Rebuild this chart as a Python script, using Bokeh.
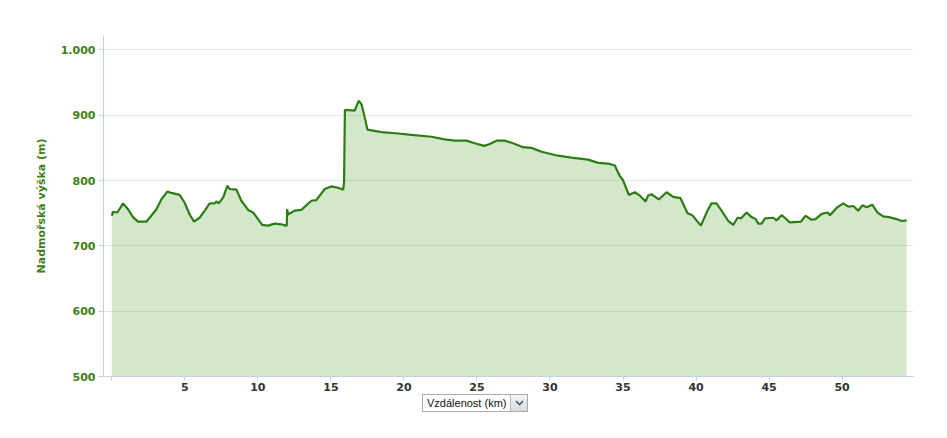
from bokeh.plotting import figure
from bokeh.models import Range1d, FixedTicker, Div, Spacer
from bokeh.layouts import column, row
from bokeh.embed import file_html
from bokeh.resources import INLINE

# ---- data ----
distance_km = [0.0, 0.08, 0.38, 0.77, 1.11, 1.45, 1.79, 2.36, 2.7, 3.05, 3.39, 3.8, 4.08, 4.64,
               4.99, 5.33, 5.63, 6.01, 6.36, 6.7, 7.04, 7.16, 7.32, 7.62, 7.91, 8.07, 8.53, 8.87,
               9.33, 9.67, 10.01, 10.29, 10.7, 11.15, 11.61, 11.9, 11.98, 12.0, 12.07, 12.52,
               12.98, 13.66, 14.0, 14.58, 15.03, 15.49, 15.84, 15.9, 15.96, 16.63, 16.9, 17.09,
               17.29, 17.5, 18.46, 19.6, 20.51, 21.88, 22.8, 23.48, 24.28, 24.85, 25.49, 25.88,
               26.34, 26.9, 27.48, 28.16, 28.73, 29.42, 30.56, 31.47, 32.61, 33.3, 33.98, 34.44,
               34.78, 35.01, 35.4, 35.81, 36.15, 36.54, 36.72, 36.95, 37.45, 37.98, 38.44, 38.94,
               39.42, 39.74, 40.33, 40.79, 41.06, 41.4, 41.75, 42.21, 42.55, 42.84, 43.07, 43.46,
               43.8, 44.08, 44.26, 44.49, 44.72, 45.29, 45.51, 45.86, 46.08, 46.42, 47.18, 47.5,
               47.91, 48.18, 48.6, 49.01, 49.17, 49.62, 50.08, 50.42, 50.77, 51.11, 51.39, 51.68,
               52.07, 52.43, 52.82, 53.21, 53.73, 54.08, 54.42]
elevation_m = [746, 752, 751, 765, 756, 744, 737, 737, 746, 756, 771, 783, 781, 778,
               766, 748, 737, 743, 754, 765, 765, 768, 765, 774, 792, 787, 786, 769,
               755, 751, 741, 732, 731, 734, 733, 731, 731, 756, 748, 754,
               755, 769, 770, 787, 791, 789, 786, 797, 908, 907, 922, 917,
               899, 878, 874, 872, 870, 867, 863, 861, 861, 857, 853, 856,
               861, 861, 857, 851, 850, 844, 838, 835, 832, 827, 826, 823,
               807, 800, 778, 782, 777, 768, 777, 779, 771, 782, 775, 773,
               750, 747, 731, 754, 765, 765, 754, 738, 732, 743, 742, 751,
               744, 741, 734, 734, 742, 743, 739, 747, 743, 736, 737, 746,
               740, 741, 749, 751, 747, 758, 765, 760, 761, 754, 762, 759,
               763, 751, 745, 744, 741, 738, 739]

y_ticks = [500, 600, 700, 800, 900, 1000]
y_tick_labels = ["500", "600", "700", "800", "900", "1.000"]
x_ticks = [0, 5, 10, 15, 20, 25, 30, 35, 40, 45, 50]
x_tick_labels = ["", "5", "10", "15", "20", "25", "30", "35", "40", "45", "50"]

y_title = "Nadmořská výška (m)"
x_selector = "Vzdálenost (km)"

GREEN_TEXT = "#3f7f16"
AXIS_COL = "#c0d0e0"

p = figure(width=931, height=395, output_backend="svg", toolbar_location=None,
           x_range=Range1d(-0.57, 54.89), y_range=Range1d(500, 1022),
           min_border_left=103, min_border_right=18, min_border_top=35, min_border_bottom=19)
p.outline_line_color = None
p.background_fill_color = "white"
p.border_fill_color = "white"

p.varea(x=distance_km, y1=[500] * len(distance_km), y2=elevation_m,
        fill_color="#5aa83a", fill_alpha=0.267)
p.line(distance_km, elevation_m, line_color="#2e7d14", line_width=2.2)

# y axis
ya = p.yaxis[0]
ya.ticker = FixedTicker(ticks=y_ticks)
ya.major_label_overrides = {t: l for t, l in zip(y_ticks, y_tick_labels)}
ya.axis_label = y_title
ya.axis_label_text_font = "DejaVu Sans"
ya.axis_label_text_font_style = "bold"
ya.axis_label_text_font_size = "11px"
ya.axis_label_text_color = GREEN_TEXT
ya.axis_label_standoff = 10
ya.major_label_text_font = "DejaVu Sans"
ya.major_label_text_font_style = "bold"
ya.major_label_text_font_size = "11px"
ya.major_label_text_color = GREEN_TEXT
ya.major_label_standoff = 3
ya.axis_line_color = AXIS_COL
ya.major_tick_line_color = AXIS_COL
ya.major_tick_out = 5
ya.major_tick_in = 0
ya.minor_tick_line_color = None

# x axis
xa = p.xaxis[0]
xa.ticker = FixedTicker(ticks=x_ticks)
xa.major_label_overrides = {t: l for t, l in zip(x_ticks, x_tick_labels)}
xa.major_label_text_font = "DejaVu Sans"
xa.major_label_text_font_style = "bold"
xa.major_label_text_font_size = "11px"
xa.major_label_text_color = "#333333"
xa.major_label_standoff = 2
xa.axis_line_color = AXIS_COL
xa.major_tick_line_color = AXIS_COL
xa.major_tick_out = 4
xa.major_tick_in = 0
xa.minor_tick_line_color = None

p.xgrid.grid_line_color = None
p.ygrid.grid_line_color = "#e6e6e6"
p.ygrid.ticker = FixedTicker(ticks=y_ticks)

# "Vzdálenost (km)" selector below the chart
selector_html = (
    '<div style="display:flex;box-sizing:border-box;width:106px;height:18px;'
    'margin-top:-2px;border:1px solid #a5acb2;background:#fff;'
    "font-family:'Liberation Sans',Arial,sans-serif;font-size:11px;color:#111;\">"
    '<div style="flex:1;line-height:16px;padding-left:4px;white-space:nowrap;">'
    + x_selector +
    '</div>'
    '<div style="box-sizing:border-box;width:17px;height:16px;border-left:1px solid #b8b8b8;'
    'background:linear-gradient(#f4f4f4,#dcdcdc);display:flex;align-items:center;'
    'justify-content:center;">'
    '<svg width="9" height="6" viewBox="0 0 9 6"><polyline points="1,1 4.5,4.5 8,1" '
    'fill="none" stroke="#4a5a6a" stroke-width="1.6"/></svg>'
    '</div></div>'
)
sel = Div(text=selector_html, width=110, height=20, margin=0)

layout = column(p, row(Spacer(width=422, height=20, margin=0), sel))

open("out.html", "w").write(file_html(layout, INLINE))
